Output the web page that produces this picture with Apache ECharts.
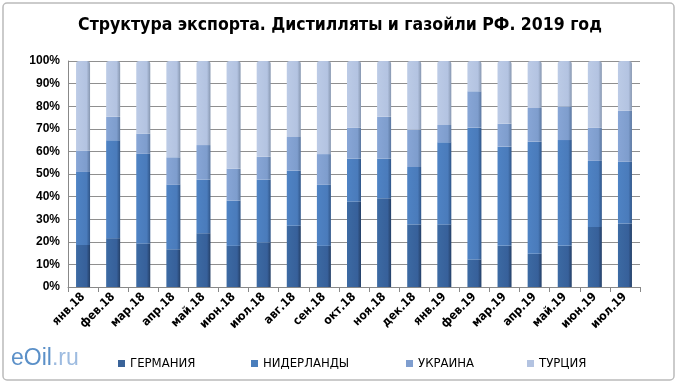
<!DOCTYPE html>
<html><head><meta charset="utf-8">
<script src="https://cdn.jsdelivr.net/npm/echarts@6/dist/echarts.min.js"></script>
<style>html,body{margin:0;padding:0;background:#fff}#c{width:680px;height:384px}</style>
</head><body><div id="c"></div>
<script>
const categories = ['янв.18','фев.18','мар.18','апр.18','май.18','июн.18','июл.18','авг.18','сен.18','окт.18','ноя.18','дек.18','янв.19','фев.19','мар.19','апр.19','май.19','июн.19','июл.19'];
const germany     = [18.6,21.6,19.3,16.7,23.8,18.2,19.6,27.1,18.2,37.8,39.3,27.7,27.7,12.2,18.2,14.7,18.2,26.6,28.1];
const netherlands = [32.3,43.3,39.6,28.5,23.7,20.0,27.9,24.4,27.0,19.0,17.5,25.4,36.3,58.3,43.9,49.6,46.8,29.2,27.3];
const ukraine     = [9.5,10.4,9.0,12.2,15.3,14.2,10.1,14.9,13.6,13.7,18.5,16.5,7.7,16.1,10.2,14.9,14.9,14.7,22.6];
const turkey      = [39.6,24.7,32.1,42.6,37.2,47.6,42.4,33.6,41.2,29.5,24.7,30.4,28.3,13.4,27.7,20.8,20.1,29.5,22.0];
const yTicks = [0,10,20,30,40,50,60,70,80,90,100];
const seriesNames = ['ГЕРМАНИЯ','НИДЕРЛАНДЫ','УКРАИНА','ТУРЦИЯ'];

const FONT = '"Liberation Sans Narrow","Arial Narrow","DejaVu Sans Condensed",sans-serif';
function grad(a,b,c){return new echarts.graphic.LinearGradient(0,0,1,0,[{offset:0,color:a},{offset:0.75,color:b},{offset:1,color:c}]);}
const colors = [
  ['#3c6aa3','#37609a','#243f66'],
  ['#4f83c4','#4a7bbb','#2f5588'],
  ['#88a6d6','#7e9dcd','#5a769f'],
  ['#bccbe6','#b3c3e1','#8797b0']
];
const dataSets = [germany, netherlands, ukraine, turkey];
const legendColors = ['#3a6399','#4a7ebc','#7f9ecf','#b3c3e1'];
const legendLeft = [113, 246, 401, 522];

const chart = echarts.init(document.getElementById('c'), null, {renderer:'canvas'});
chart.setOption({
  animation:false,
  backgroundColor:'#fff',
  title:{text:'Структура экспорта. Дистилляты и газойли РФ. 2019 год', left:'center', top:11,
    textStyle:{fontFamily:FONT, fontSize:17.5, fontWeight:'bold', color:'#000'}},
  legend: seriesNames.map((n,i)=>({top:352, left:legendLeft[i], itemWidth:7, itemHeight:7, icon:'rect',
    textStyle:{fontFamily:FONT, fontSize:13, color:'#000'},
    data:[{name:n, itemStyle:{color:legendColors[i]}}]})),
  grid:{left:68, right:40, top:61, bottom:97},
  xAxis:{type:'category', data:categories,
    axisLine:{lineStyle:{color:'#888'}}, axisTick:{show:true, lineStyle:{color:'#888'}},
    axisLabel:{rotate:45, interval:0, fontFamily:FONT, fontSize:12, fontWeight:'bold', color:'#000', margin:8}},
  yAxis:{type:'value', min:0, max:100, interval:10,
    axisLabel:{formatter:v=> yTicks.includes(v)? v+'%':'', fontFamily:'"Liberation Sans",Arial,sans-serif', fontSize:12, fontWeight:'bold', color:'#000'},
    axisLine:{show:true, lineStyle:{color:'#888'}},
    splitLine:{lineStyle:{color:'#8f8f8f', width:1}}},
  series: seriesNames.map((n,i)=>({
    name:n, type:'bar', stack:'s', barWidth:14,
    data:dataSets[i],
    itemStyle:{color:grad(...colors[i]), borderRadius: i===3?[3,3,0,0]:0}
  })),
  graphic:[
    {type:'rect', shape:{x:3,y:3,width:671,height:377,r:4}, style:{fill:'none', stroke:'#bbb', lineWidth:1.5}, z:-1},
    {type:'text', left:11, top:347, style:{text:'{a|eOil}{b|.ru}', fontFamily:'"Liberation Sans",Arial,sans-serif', fontSize:23,
      rich:{a:{fontFamily:'"Liberation Sans",Arial,sans-serif', fontSize:23, fill:'#5b90c8', color:'#5b90c8'},
            b:{fontFamily:'"Liberation Sans",Arial,sans-serif', fontSize:23, fill:'#9dbbe0', color:'#9dbbe0'}}}}
  ]
});
</script></body></html>
